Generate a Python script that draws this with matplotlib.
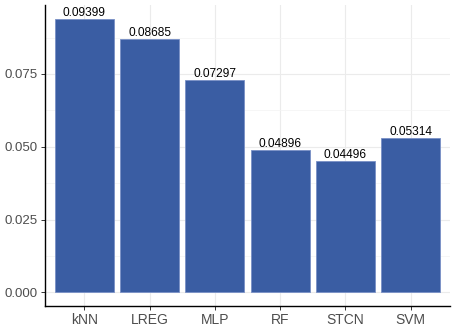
import matplotlib
matplotlib.use("Agg")
import matplotlib.pyplot as plt
from matplotlib.ticker import MultipleLocator

models = ["kNN", "LREG", "MLP", "RF", "STCN", "SVM"]
values = [0.09399, 0.08685, 0.07297, 0.04896, 0.04496, 0.05314]
labels = ["0.09399", "0.08685", "0.07297", "0.04896", "0.04496", "0.05314"]
yticks = [0.000, 0.025, 0.050, 0.075]
ytick_labels = ["0.000", "0.025", "0.050", "0.075"]

plt.rcParams['font.family'] = ['Liberation Sans', 'DejaVu Sans']

W, H = 457, 327
fig = plt.figure(figsize=(W / 100, H / 100), dpi=100)
left, right, top, bottom = 45, 450, 5, 306
ax = fig.add_axes([left / W, 1 - bottom / H, (right - left) / W, (bottom - top) / H])

x = list(range(1, len(models) + 1))
ax.bar(x, values, width=0.9, color="#3A5DA3", edgecolor="#7990C6", linewidth=0.6, zorder=3)
for xi, v, lab in zip(x, values, labels):
    ax.text(xi, v, lab, ha="center", va="bottom", fontsize=8.6, color="black", zorder=4)

ymax = max(values)
ax.set_xlim(0.4, len(models) + 0.6)
ax.set_ylim(-0.05 * ymax, 1.05 * ymax)
ax.set_xticks(x)
ax.set_xticklabels(models)
ax.set_yticks(yticks)
ax.set_yticklabels(ytick_labels)
ax.yaxis.set_minor_locator(MultipleLocator(0.0125))

ax.grid(True, which="major", color="#EBEBEB", linewidth=0.8, zorder=0)
ax.grid(True, which="minor", axis="y", color="#F3F3F3", linewidth=0.5, zorder=0)
ax.set_axisbelow(True)
for s in ["top", "right"]:
    ax.spines[s].set_visible(False)
for s in ["left", "bottom"]:
    ax.spines[s].set_color("black")
    ax.spines[s].set_linewidth(1.0)
ax.tick_params(axis="both", which="major", length=3, width=0.7, color="#333333",
               labelsize=9.5, labelcolor="#4D4D4D", pad=2)
ax.tick_params(axis="x", which="major", labelsize=10)
ax.tick_params(axis="both", which="minor", length=0)

fig.savefig("out.png", dpi=100)
